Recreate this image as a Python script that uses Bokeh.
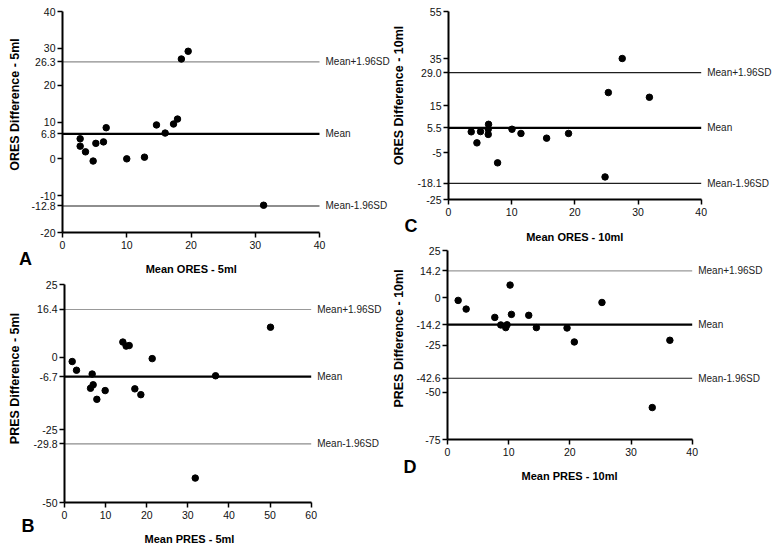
import math
from bokeh.plotting import figure
from bokeh.models import Range1d, FixedTicker, Label
from bokeh.layouts import row, column
from bokeh.core.properties import value
from bokeh.embed import file_html
from bokeh.resources import INLINE

FONT = "Liberation Sans"

# ---------------- data ----------------
# Panel A : ORES 5 ml
a_mean = [2.75, 2.75, 3.58, 5.19, 6.38, 6.8, 4.77, 10.0, 12.76, 14.63, 15.98, 17.28, 17.9, 18.5, 19.56, 31.3]
a_diff = [5.45, 3.45, 1.9, 4.2, 4.6, 8.45, -0.6, 0.0, 0.45, 9.2, 7.0, 9.45, 10.8, 27.1, 29.2, -12.6]
a_limits = [26.3, 6.8, -12.8]          # mean+1.96SD, mean, mean-1.96SD
a_yticks = [-20, -12.8, -10, 0, 6.8, 10, 20, 26.3, 30, 40]
a_ylabels = ["-20", "-12.8", "-10", "0", "6.8", "10", "20", "26.3", "30", "40"]
a_xticks = [0, 10, 20, 30, 40]

# Panel B : PRES 5 ml
b_mean = [1.87, 2.92, 6.73, 6.33, 6.97, 7.87, 9.89, 14.19, 15.0, 15.73, 17.11, 18.57, 21.33, 36.74, 31.8, 50.1]
b_diff = [-1.5, -4.5, -5.8, -10.7, -9.5, -14.5, -11.5, 5.2, 3.8, 4.0, -10.9, -12.9, -0.5, -6.4, -41.6, 10.3]
b_limits = [16.4, -6.7, -29.8]
b_yticks = [-50, -29.8, -25, -6.7, 0, 16.4, 25]
b_ylabels = ["-50", "-29.8", "-25", "-6.7", "0", "16.4", "25"]
b_xticks = [0, 10, 20, 30, 40, 50, 60]

# Panel C : ORES 10 ml
c_mean = [3.6, 4.5, 5.07, 6.34, 6.29, 6.29, 7.77, 10.05, 11.47, 15.53, 19.0, 24.78, 25.3, 27.5, 31.8]
c_diff = [3.8, -0.9, 3.9, 7.0, 4.9, 2.7, -9.4, 4.9, 3.1, 1.1, 3.1, -15.4, 20.5, 35.0, 18.5]
c_limits = [29.0, 5.5, -18.1]
c_yticks = [-25, -18.1, -5, 5.5, 15, 29, 35, 55]
c_ylabels = ["-25", "-18.1", "-5", "5.5", "15", "29.0", "35", "55"]
c_xticks = [0, 10, 20, 30, 40]

# Panel D : PRES 10 ml
d_mean = [1.74, 3.05, 7.73, 8.71, 9.52, 9.74, 10.23, 10.45, 13.28, 14.53, 19.54, 20.73, 25.25, 33.47, 36.35]
d_diff = [-1.4, -6.0, -10.4, -14.4, -15.8, -14.3, 6.7, -8.8, -9.3, -15.8, -16.0, -23.4, -2.5, -58.1, -22.5]
d_limits = [14.2, -14.2, -42.6]
d_yticks = [-75, -50, -42.6, -25, -14.2, 0, 14.2, 25]
d_ylabels = ["-75", "-50", "-42.6", "-25", "-14.2", "0", "14.2", "25"]
d_xticks = [0, 10, 20, 30, 40]

limit_texts = ["Mean+1.96SD", "Mean", "Mean-1.96SD"]


def make_panel(xs, ys, limits, yticks, ylabels, xticks, geo, xtitle, ytitle, letter, line_colors):
    ox, oy, w, h = geo["ox"], geo["oy"], geo["w"], geo["h"]
    L, T, B, xe = geo["L"], geo["T"], geo["B"], geo["xend"]
    xmax = xticks[-1]
    y0, y1 = yticks[0], yticks[-1]
    sx = xmax / (xe - L)
    sy = (y1 - y0) / (B - T)
    xr = Range1d((ox - L) * sx, (ox + w - L) * sx)
    yr = Range1d(y0 - (oy + h - B) * sy, y1 + (T - oy) * sy)

    def px(x, y):
        return ((x - L) * sx, y1 - (y - T) * sy)

    p = figure(width=w, height=h, x_range=xr, y_range=yr,
               output_backend="svg", toolbar_location=None,
               min_border=0, min_border_left=0, min_border_right=0,
               min_border_top=0, min_border_bottom=0)
    p.xgrid.visible = False
    p.ygrid.visible = False
    p.outline_line_color = None
    p.background_fill_color = "white"
    p.border_fill_color = "white"

    for ax in (p.xaxis[0], p.yaxis[0]):
        ax.axis_line_width = 2
        ax.axis_line_color = "black"
        ax.major_tick_line_width = 1.5
        ax.major_tick_line_color = "black"
        ax.major_tick_out = 5
        ax.major_tick_in = 0
        ax.minor_tick_out = 0
        ax.minor_tick_in = 0
        ax.major_label_text_font = FONT
        ax.major_label_text_font_size = "10.5px"
        ax.major_label_text_color = "#111111"
    p.xaxis[0].ticker = FixedTicker(ticks=xticks)
    p.xaxis[0].bounds = (0, xmax)
    p.xaxis[0].fixed_location = y0
    p.xaxis[0].major_label_standoff = 3
    p.yaxis[0].ticker = FixedTicker(ticks=yticks)
    p.yaxis[0].bounds = (y0, y1)
    p.yaxis[0].fixed_location = 0
    p.yaxis[0].major_label_standoff = 2
    p.yaxis[0].major_label_overrides = {k: lab for k, lab in zip(yticks, ylabels)}

    # reference lines
    p.segment(x0=[0, 0, 0], x1=[xmax] * 3, y0=limits, y1=limits,
              line_color=line_colors, line_width=[1.2, 2.2, 1.2])
    p.text(x=[xmax] * 3, y=limits, text=limit_texts, x_offset=6,
           text_baseline="middle", text_align="left",
           text_font=value(FONT), text_font_size="10px", text_color="#222222")

    p.scatter(xs, ys, size=6.5, marker="circle", fill_color="black", line_color="black")

    # titles and panel letter
    lx, ly = px(*geo["letter"])
    p.add_layout(Label(x=lx, y=ly, text=letter, text_font=FONT, text_font_size="18px",
                       text_font_style="bold", text_align="left", text_baseline="alphabetic",
                       text_color="black"))
    tx, ty = px(*geo["xtitle"])
    p.add_layout(Label(x=tx, y=ty, text=xtitle, text_font=FONT, text_font_size="11px",
                       text_font_style="bold", text_align="center", text_baseline="alphabetic",
                       text_color="black"))
    vx, vy = px(*geo["ytitle"])
    p.add_layout(Label(x=vx, y=vy, text=ytitle, text_font=FONT, text_font_size="12.5px",
                       text_font_style="bold", text_align="center", text_baseline="middle",
                       angle=math.pi / 2, text_color="black"))
    return p


# page-pixel geometry (figure origin/size, y-axis x, top/bottom of y-axis, x of last x tick)
GEO_A = dict(ox=0, oy=0, w=392, h=277, L=62, T=11, B=232, xend=319,
             letter=(18.5, 258.5), xtitle=(190.7, 268.5), ytitle=(14, 104))
GEO_B = dict(ox=0, oy=277, w=392, h=268, L=64, T=284, B=502, xend=310.7,
             letter=(21, 525), xtitle=(189, 538.5), ytitle=(14, 378))
GEO_C = dict(ox=392, oy=0, w=390, h=243, L=448, T=11, B=199, xend=700.7,
             letter=(404, 225), xtitle=(574.3, 236.8), ytitle=(398.3, 95))
GEO_D = dict(ox=392, oy=243, w=390, h=257, L=447, T=250, B=439, xend=691.7,
             letter=(403, 466.7), xtitle=(569, 475), ytitle=(398.3, 338))

pA = make_panel(a_mean, a_diff, a_limits, a_yticks, a_ylabels, a_xticks, GEO_A,
                "Mean ORES - 5ml", "ORES Difference - 5ml", "A", ["#8c8c8c", "black", "#1e1e1e"])
pB = make_panel(b_mean, b_diff, b_limits, b_yticks, b_ylabels, b_xticks, GEO_B,
                "Mean PRES - 5ml", "PRES Difference - 5ml", "B", ["#999999", "black", "#8c8c8c"])
pC = make_panel(c_mean, c_diff, c_limits, c_yticks, c_ylabels, c_xticks, GEO_C,
                "Mean ORES - 10ml", "ORES Difference - 10ml", "C", ["#1e1e1e", "black", "#1e1e1e"])
pD = make_panel(d_mean, d_diff, d_limits, d_yticks, d_ylabels, d_xticks, GEO_D,
                "Mean PRES - 10ml", "PRES Difference - 10ml", "D", ["#999999", "black", "#1e1e1e"])

layout = row(column(pA, pB, spacing=0), column(pC, pD, spacing=0), spacing=0)

open("out.html", "w").write(file_html(layout, INLINE))
